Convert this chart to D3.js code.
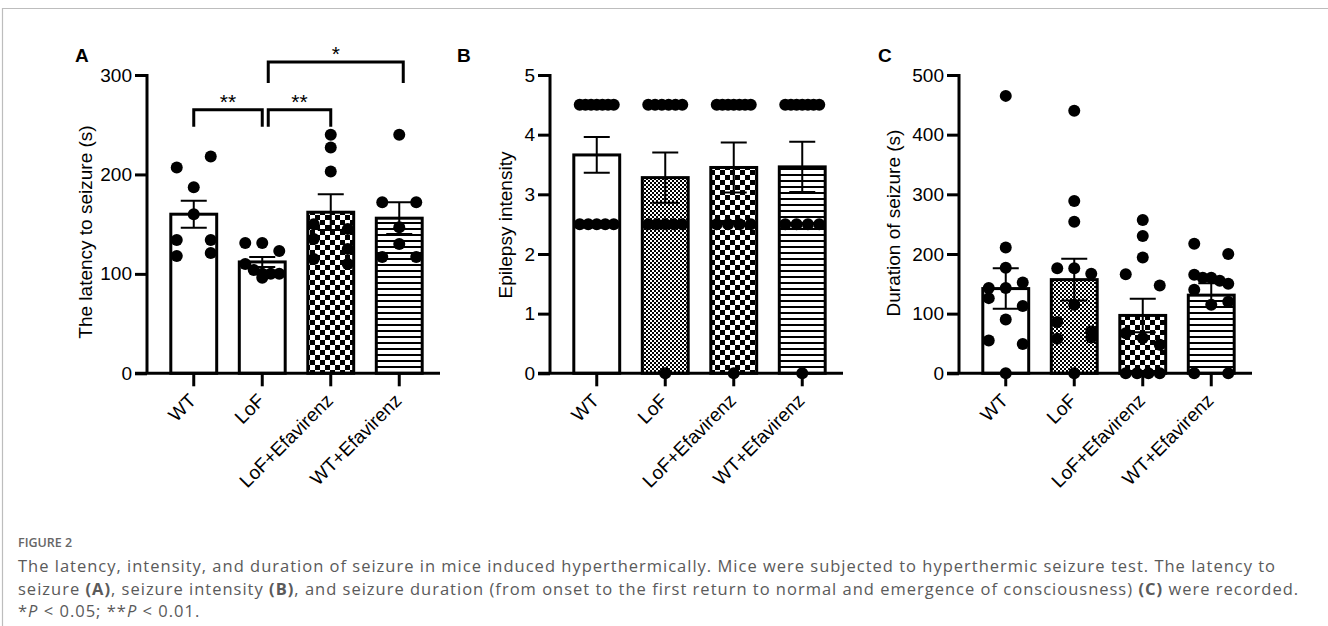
<!DOCTYPE html>
<html>
<head>
  <meta charset="utf-8">
  <title>Figure 2 - seizure latency, intensity, duration</title>
  <script src="https://d3js.org/d3.v7.min.js"></script>
  <style>
    body { margin: 0; background: #fff; }
    svg { display: block; }
    .panel text { font-family: Arial, "Liberation Sans", sans-serif; fill: #000; }
    .caption { font-family: "Open Sans", "Noto Sans", sans-serif; fill: #5a5a5a; }
  </style>
</head>
<body>
  <svg width="1328" height="626"></svg>
  <script>
    const groups = ["WT", "LoF", "LoF+Efavirenz", "WT+Efavirenz"];

    // A: latency to seizure (s)
    const latencyMean = [160, 112, 162, 156];
    const latencySem = [13.5, 5, 18, 16];
    const latencyPts = [
      [207, 218, 187, 160, 134, 134, 118, 121],
      [131, 131, 123, 110, 104, 100, 100, 100, 96],
      [240, 227, 203, 150, 145, 135, 125, 115, 110],
      [240, 172, 172, 147, 130, 117, 117]
    ];

    // B: epilepsy intensity
    const intensityMean = [3.66, 3.28, 3.45, 3.46];
    const intensitySem = [0.30, 0.42, 0.42, 0.42];
    const intensityPts = [
      [4.5, 4.5, 4.5, 4.5, 4.5, 4.5, 4.5, 2.5, 2.5, 2.5, 2.5, 2.5],
      [4.5, 4.5, 4.5, 4.5, 4.5, 4.5, 2.5, 2.5, 2.5, 2.5, 2.5, 0],
      [4.5, 4.5, 4.5, 4.5, 4.5, 4.5, 4.5, 2.5, 2.5, 2.5, 2.5, 0],
      [4.5, 4.5, 4.5, 4.5, 4.5, 4.5, 4.5, 2.5, 2.5, 2.5, 2.5, 0]
    ];

    // C: duration of seizure (s)
    const durationMean = [142, 157, 97, 131];
    const durationSem = [34, 35, 28, 20];
    const durationPts = [
      [465, 211, 177, 143, 143, 152, 126, 113, 90, 55, 49, 0],
      [440, 289, 254, 176, 176, 167, 115, 86, 70, 58, 60, 0],
      [257, 230, 194, 166, 147, 67, 59, 48, 0, 0, 0, 0],
      [217, 200, 165, 160, 160, 155, 150, 140, 120, 115, 0, 0]
    ];

    const latencyTicks = [0, 100, 200, 300];
    const intensityTicks = [0, 1, 2, 3, 4, 5];
    const durationTicks = [0, 100, 200, 300, 400, 500];

    // significance brackets in panel A (group index pairs)
    const sigPairs = [[0, 1], [1, 2], [1, 3]];
    const sigLabels = ["**", "**", "*"];
    const sigLevels = [265, 265, 313];

    const svg = d3.select("svg");
    const font = 'Arial, "Liberation Sans", sans-serif';

    // ---- fill patterns ----
    const defs = svg.append("defs");
    function checker(id, c) {
      const p = defs.append("pattern").attr("id", id)
        .attr("patternUnits", "userSpaceOnUse")
        .attr("width", 2 * c).attr("height", 2 * c);
      p.append("rect").attr("width", 2 * c).attr("height", 2 * c).attr("fill", "#fff");
      p.append("rect").attr("width", c).attr("height", c).attr("fill", "#000");
      p.append("rect").attr("x", c).attr("y", c).attr("width", c).attr("height", c).attr("fill", "#000");
    }
    checker("fine", 2);
    checker("coarse", 5);
    const st = defs.append("pattern").attr("id", "stripes")
      .attr("patternUnits", "userSpaceOnUse").attr("width", 6).attr("height", 6);
    st.append("rect").attr("width", 6).attr("height", 6).attr("fill", "#fff");
    st.append("rect").attr("y", 0).attr("width", 6).attr("height", 2).attr("fill", "#000");

    // frame
    svg.append("path").attr("d", "M2.5,626 V8.5 H1328")
      .attr("fill", "none").attr("stroke", "#bdbdbd").attr("stroke-width", 1.2);

    const yTop = 75, yBot = 373.3;

    function panel(cfg) {
      const g = svg.append("g").attr("class", "panel");
      const left = cfg.left;
      const x = d3.scaleBand().domain(groups)
        .range([left + 12.5, left + 12.5 + 274])
        .paddingInner(0.33).paddingOuter(0.165);
      const y = d3.scaleLinear().domain(cfg.domain).range([yBot, yTop]);
      const bw = x.bandwidth();
      const cx = d => x(d) + bw / 2;

      // bars
      g.selectAll("rect.bar").data(groups).join("rect")
        .attr("class", "bar")
        .attr("x", d => x(d)).attr("width", bw)
        .attr("y", (d, i) => y(cfg.mean[i]))
        .attr("height", (d, i) => yBot - y(cfg.mean[i]))
        .attr("fill", (d, i) => cfg.fills[i])
        .attr("stroke", "#000").attr("stroke-width", 3);

      // error bars (mean +/- SEM)
      groups.forEach((d, i) => {
        const hi = y(cfg.mean[i] + cfg.sem[i]), lo = y(cfg.mean[i] - cfg.sem[i]);
        const c = cx(d);
        g.append("path")
          .attr("d", `M${c},${lo}V${hi}M${c - 13},${hi}H${c + 13}M${c - 13},${lo}H${c + 13}`)
          .attr("fill", "none").attr("stroke", "#000").attr("stroke-width", 2);
      });

      // axes
      const ya = g.append("g").attr("transform", `translate(${left},0)`)
        .call(d3.axisLeft(y).tickValues(cfg.ticks).tickFormat(d3.format("d"))
          .tickSize(12).tickPadding(3).tickSizeOuter(0));
      ya.select(".domain").remove();
      ya.selectAll("line").attr("stroke", "#000").attr("stroke-width", 3);
      ya.selectAll("text").style("font-family", font).style("font-size", "19px").attr("fill", "#000");

      const xa = g.append("g").attr("transform", `translate(0,${yBot})`)
        .call(d3.axisBottom(x).tickSize(13).tickSizeOuter(0));
      xa.select(".domain").remove();
      xa.selectAll("line").attr("stroke", "#000").attr("stroke-width", 3);
      xa.selectAll("text")
        .style("font-family", font).style("font-size", "19px").attr("fill", "#000")
        .attr("text-anchor", "end")
        .attr("transform", "translate(3.5,28.5) rotate(-45)")
        .attr("dy", 0).attr("y", 0).attr("x", 0);

      g.append("path").attr("d", `M${left - 12},${yBot}H${left + 293}M${left},${yBot}V${yTop - 1}`)
        .attr("fill", "none").attr("stroke", "#000").attr("stroke-width", 3);

      // scatter points, spread sideways like a column scatter
      const r = 6, dia = 12, spread = 34;
      groups.forEach((d, i) => {
        const pts = cfg.pts[i].map((v, k) => ({ v, k, py: y(v) }))
          .sort((a, b) => a.py - b.py || a.k - b.k);
        const rows = [];
        pts.forEach(p => {
          const row = rows[rows.length - 1];
          if (row && p.py - row[0].py < dia) row.push(p); else rows.push([p]);
        });
        rows.forEach(row => {
          row.sort((a, b) => a.k - b.k);
          const n = row.length;
          row.forEach((p, j) => { p.dx = n === 1 ? 0 : -spread / 2 + j * spread / (n - 1); });
        });
        g.selectAll(null).data(pts).join("circle")
          .attr("cx", p => cx(d) + p.dx).attr("cy", p => p.py).attr("r", r).attr("fill", "#000");
      });

      // y label and panel letter
      g.append("text")
        .attr("transform", `translate(${cfg.labelX},${cfg.labelY}) rotate(-90)`)
        .attr("text-anchor", "middle").attr("dy", "0.35em")
        .style("font-size", "19px").text(cfg.label);
      g.append("text").attr("x", cfg.letterX).attr("y", 62)
        .style("font-size", "19px").style("font-weight", "bold").text(cfg.letter);

      return { g, x, y, cx };
    }

    const pa = panel({
      left: 147, domain: [0, 300], ticks: latencyTicks,
      mean: latencyMean, sem: latencySem, pts: latencyPts,
      fills: ["#fff", "#fff", "url(#coarse)", "url(#stripes)"],
      label: "The latency to seizure (s)", labelX: 85, labelY: 232,
      letter: "A", letterX: 75
    });
    panel({
      left: 550, domain: [0, 5], ticks: intensityTicks,
      mean: intensityMean, sem: intensitySem, pts: intensityPts,
      fills: ["#fff", "url(#fine)", "url(#coarse)", "url(#stripes)"],
      label: "Epilepsy intensity", labelX: 505, labelY: 225,
      letter: "B", letterX: 457
    });
    panel({
      left: 959, domain: [0, 500], ticks: durationTicks,
      mean: durationMean, sem: durationSem, pts: durationPts,
      fills: ["#fff", "url(#fine)", "url(#coarse)", "url(#stripes)"],
      label: "Duration of seizure (s)", labelX: 893, labelY: 223,
      letter: "C", letterX: 878
    });

    // significance brackets on panel A
    sigPairs.forEach(([a, b], i) => {
      const x1 = pa.cx(groups[a]) + (i > 0 ? 6 : 0);
      const x2 = pa.cx(groups[b]) + (i === 2 ? 4 : 0);
      const yb = pa.y(sigLevels[i]), leg = 17 + (i === 2 ? 4 : 0);
      pa.g.append("path").attr("d", `M${x1},${yb + leg}V${yb}H${x2}V${yb + leg}`)
        .attr("fill", "none").attr("stroke", "#000").attr("stroke-width", 3);
      pa.g.append("text").attr("x", (x1 + x2) / 2).attr("y", yb - 1)
        .attr("text-anchor", "middle").style("font-size", "21px").text(sigLabels[i]);
    });

    // caption
    const cap = svg.append("g").attr("class", "caption");
    cap.append("text").attr("x", 18).attr("y", 547)
      .style("font-size", "12.5px").style("font-weight", "600").style("fill", "#666")
      .text("FIGURE 2");
    const lines = [
      [["The latency, intensity, and duration of seizure in mice induced hyperthermically. Mice were subjected to hyperthermic seizure test. The latency to", ""]],
      [["seizure ", ""], ["(A)", "b"], [", seizure intensity ", ""], ["(B)", "b"],
       [", and seizure duration (from onset to the first return to normal and emergence of consciousness) ", ""], ["(C)", "b"], [" were recorded.", ""]],
      [["*", ""], ["P", "i"], [" < 0.05; **", ""], ["P", "i"], [" < 0.01.", ""]]
    ];
    lines.forEach((parts, li) => {
      const t = cap.append("text").attr("x", 18).attr("y", 572 + li * 22.5)
        .style("font-size", "16.5px").style("letter-spacing", "1px");
      parts.forEach(([s, f]) => {
        const ts = t.append("tspan").text(s);
        if (f === "b") ts.style("font-weight", "bold");
        if (f === "i") ts.style("font-style", "italic");
      });
    });
  </script>
</body>
</html>
